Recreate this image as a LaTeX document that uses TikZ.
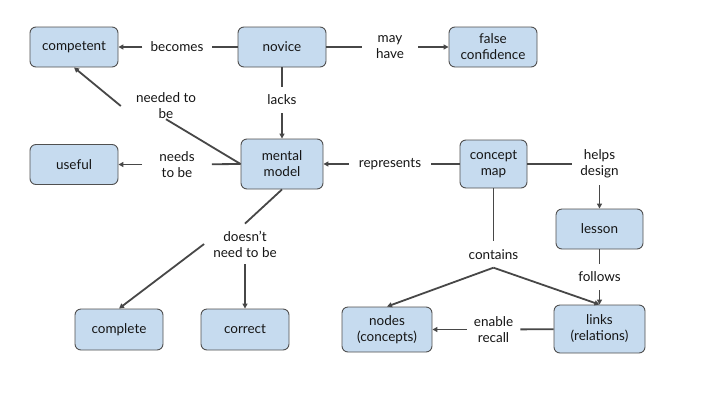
\documentclass[tikz,border=0pt]{standalone}
\usepackage{fontspec}
\setmainfont{Lato}
\usetikzlibrary{arrows.meta}
\definecolor{boxfill}{HTML}{C6DBEF}
\definecolor{boxline}{HTML}{505050}
\definecolor{lncol}{HTML}{474747}
\definecolor{txt}{HTML}{151515}
\tikzset{
  box/.style={draw=boxline, fill=boxfill, rounded corners=6pt, line width=0.9pt,
    minimum width=88pt, minimum height=40pt, align=center, inner sep=0pt, text=txt,
    font=\fontsize{13.5}{16}\selectfont},
  lbl/.style={align=center, inner xsep=8pt, inner ysep=8pt, text=txt,
    font=\fontsize{13.5}{16}\selectfont},
  conn/.style={draw=lncol, line width=1.8pt},
  arr/.style={conn, -{Triangle[length=5pt,width=5pt]}},
}
\begin{document}
\begin{tikzpicture}[x=1pt,y=-1pt]
\useasboundingbox[fill=white] (0,0) rectangle (720,405);
% concept boxes
\node[box] (competent) at (74,47) {competent};
\node[box] (novice) at (282,47) {novice};
\node[box] (falseconf) at (493,47) {false\\confidence};
\node[box] (useful) at (74,164.5) {useful};
\node[box, minimum width=82pt, minimum height=50pt] (mm) at (282,164) {mental\\model};
\node[box, minimum width=67pt, minimum height=48pt] (cm) at (493.5,164) {concept\\map};
\node[box, minimum width=87pt] (lesson) at (599.5,229) {lesson};
\node[box, minimum height=41pt] (complete) at (119,329.5) {complete};
\node[box, minimum height=41pt] (correct) at (245,329.5) {correct};
\node[box, minimum width=90pt, minimum height=45pt] (nodes) at (387,329.5) {nodes\\(concepts)};
\node[box, minimum width=91pt, minimum height=48pt] (links) at (599.5,329) {links\\(relations)};
% link labels
\node[lbl] (becomes) at (177,47) {becomes};
\node[lbl, inner xsep=14pt] (mayhave) at (390,47) {may\\have};
\node[lbl] (lacks) at (282,100) {lacks};
\node[lbl, inner xsep=15pt, inner ysep=0pt] (neededtobe) at (166,106) {needed to\\be};
\node[lbl, inner xsep=17pt] (needstobe) at (177,164.5) {needs\\to be};
\node[lbl, inner xsep=10pt] (represents) at (390,164) {represents};
\node[lbl, inner ysep=7pt] (helps) at (599.5,164) {helps\\design};
\node[lbl] (contains) at (493.5,254.5) {contains};
\node[lbl] (follows) at (599.5,277) {follows};
\node[lbl, inner xsep=7pt] (enable) at (493.5,329.5) {enable\\recall};
\node[lbl, inner xsep=9pt, inner ysep=7pt] (doesnt) at (245,244) {doesn’t\\need to be};
% connectors
\draw[conn] (novice) -- (becomes);
\draw[arr] (becomes) -- (competent);
\draw[conn] (novice) -- (mayhave);
\draw[arr] (mayhave) -- (falseconf);
\draw[conn] (novice) -- (lacks);
\draw[arr] (lacks) -- (mm);
\draw[conn] (mm.west) -- (neededtobe.south);
\draw[arr] (neededtobe.west) -- (competent.south);
\draw[conn] (mm.west) -- (needstobe);
\draw[arr] (needstobe) -- (useful);
\draw[conn] (cm) -- (represents);
\draw[arr] (represents) -- (mm);
\draw[conn] (cm) -- (helps);
\draw[arr] (helps) -- (lesson);
\draw[conn] (cm) -- (contains);
\draw[arr] (contains.south) -- (nodes.north);
\draw[arr] (contains.south) -- (links.north);
\draw[conn, line width=1pt] (lesson) -- (follows);
\draw[arr] (follows) -- (links);
\draw[conn] (links) -- (enable);
\draw[arr] (enable) -- (nodes);
\draw[conn] (mm.south) -- (doesnt.north);
\draw[arr] (doesnt.west) -- (complete.north);
\draw[arr] (doesnt.south) -- (correct.north);
\end{tikzpicture}
\end{document}
